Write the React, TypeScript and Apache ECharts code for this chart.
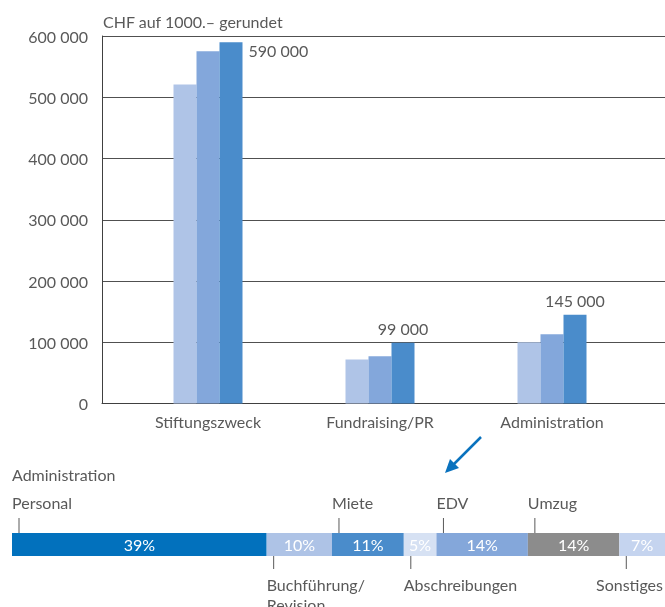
import React, { useEffect, useRef } from 'react';
import * as echarts from 'echarts';

const FONT = 'Lato, "Noto Sans", sans-serif';
const FS = 16;
const TXT = '#595959';

// ---- main bar chart data ----
const categories = ['Stiftungszweck', 'Fundraising/PR', 'Administration'];
const seriesNames = ['Periode 1', 'Periode 2', 'Periode 3'];
const valuesA = [521000, 72000, 100000];
const valuesB = [575000, 77000, 113000];
const valuesC = [590000, 99000, 145000];
const yMin = 0;
const yMax = 600000;
const yStep = 100000;
const chartTitle = 'CHF auf 1000.– gerundet';

// ---- administration breakdown data ----
const breakdownTitle = 'Administration';
const segNames = ['Personal', 'Buchführung/\nRevision', 'Miete', 'Abschreibungen', 'EDV', 'Umzug', 'Sonstiges'];
const segValues = [39, 10, 11, 5, 14, 14, 7];
const segSide = ['top', 'bottom', 'top', 'bottom', 'top', 'top', 'bottom'];

const barColors = ['#afc4e7', '#83a7db', '#4a8ccb'];
const segColors = ['#0271bd', '#aec3e6', '#4a8ccb', '#d6e1f3', '#84a7da', '#8c8c8c', '#c5d4ef'];

function fmt(v: number) {
  return String(Math.round(v)).replace(/\B(?=(\d{3})+(?!\d))/g, ' ');
}

export default function App() {
  const ref = useRef<HTMLDivElement>(null);
  useEffect(() => {
    const chart = echarts.init(ref.current!, null, { renderer: 'svg' });
    const plotTop = 36;
    const plotH = 367.5;
    const option: any = {
      animation: false,
      textStyle: { fontFamily: FONT },
      grid: [
        { left: 122, width: 516, top: plotTop, height: plotH },
        { left: 102, right: 0, top: plotTop, height: plotH },
        { left: 12, right: 0, top: 533, height: 23 },
      ],
      xAxis: [
        {
          type: 'category', gridIndex: 0, data: categories,
          axisLine: { show: false }, axisTick: { show: false },
          axisLabel: { fontSize: FS, color: TXT, fontFamily: FONT, margin: 10 },
        },
        {
          type: 'value', gridIndex: 1, min: 0, max: 1,
          axisLine: { show: true, lineStyle: { color: '#404040', width: 1 } },
          axisTick: { show: false }, axisLabel: { show: false }, splitLine: { show: false },
        },
        {
          type: 'value', gridIndex: 2, min: 0, max: 100, show: false,
        },
      ],
      yAxis: [
        { type: 'value', gridIndex: 0, min: yMin, max: yMax, interval: yStep, show: false },
        {
          type: 'value', gridIndex: 1, min: yMin, max: yMax, interval: yStep,
          axisLine: { show: true, lineStyle: { color: '#404040', width: 1 } },
          axisTick: { show: false },
          axisLabel: { fontSize: FS, color: TXT, fontFamily: FONT, margin: 14, formatter: (v: number) => fmt(v) },
          splitLine: { show: true, lineStyle: { color: '#505050', width: 1 } },
        },
        { type: 'category', gridIndex: 2, data: [breakdownTitle], show: false },
      ],
      series: [
        ...[valuesA, valuesB, valuesC].map((vals, si) => ({
          type: 'bar', name: seriesNames[si], xAxisIndex: 0, yAxisIndex: 0,
          data: vals.map((v, di) => ({
            value: v,
            label: si === 2 ? {
              show: true,
              position: di === 0 ? [29, 0] : 'top',
              distance: 6,
              align: di === 0 ? 'left' : 'center',
              verticalAlign: di === 0 ? 'top' : 'bottom',
            } : { show: false },
          })),
          barWidth: 23, barGap: '0%',
          itemStyle: { color: barColors[si] },
          label: {
            fontSize: FS, color: TXT, fontFamily: FONT,
            formatter: (p: any) => fmt(p.value),
          },
        })),
        ...segValues.map((v, i) => ({
          type: 'bar', name: segNames[i], stack: 'admin', xAxisIndex: 2, yAxisIndex: 2,
          data: [v], barWidth: 23,
          itemStyle: { color: segColors[i] },
          label: {
            show: true, position: 'inside', color: '#ffffff', fontSize: FS, fontFamily: FONT,
            formatter: (p: any) => p.value + '%',
          },
        })),
      ],
    };
    chart.setOption(option);

    const g: any[] = [
      {
        type: 'text', x: 103, y: 11,
        style: { text: chartTitle, fontSize: FS, fontFamily: FONT, fill: TXT, lineHeight: 20, verticalAlign: 'top' },
      },
      {
        type: 'text', x: 12, y: 464,
        style: { text: breakdownTitle, fontSize: FS, fontFamily: FONT, fill: TXT, lineHeight: 20, verticalAlign: 'top' },
      },
      {
        type: 'line', shape: { x1: 481, y1: 437, x2: 452, y2: 466 },
        style: { stroke: '#0a72be', lineWidth: 2.5 },
      },
      {
        type: 'polygon', shape: { points: [[445, 473], [459, 468], [450, 459]] },
        style: { fill: '#0a72be' },
      },
    ];
    let cum = 0;
    const rightEdge = 665;
    segNames.forEach((name, i) => {
      const x0 = chart.convertToPixel({ xAxisIndex: 2 }, cum) as number;
      cum += segValues[i];
      const top = segSide[i] === 'top';
      g.push({
        type: 'line',
        shape: { x1: x0 + 7, y1: top ? 518 : 556, x2: x0 + 7, y2: top ? 533 : 569 },
        style: { stroke: TXT, lineWidth: 1 },
      });
      const last = i === segNames.length - 1;
      g.push({
        type: 'text', x: last ? rightEdge - 2 : x0, y: top ? 492 : 574.5,
        style: {
          text: name, fontSize: FS, fontFamily: FONT, fill: TXT, lineHeight: 20,
          align: last ? 'right' : 'left', verticalAlign: 'top',
        },
      });
    });
    chart.setOption({ graphic: g });
    return () => chart.dispose();
  }, []);
  return <div ref={ref} style={{ position: 'fixed', left: 0, top: 0, width: 665, height: 607 }} />;
}
